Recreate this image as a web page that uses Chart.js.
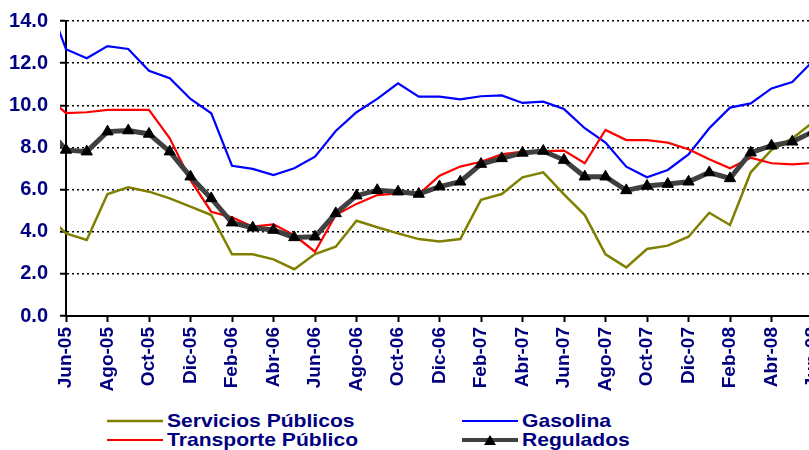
<!DOCTYPE html>
<html>
<head>
<meta charset="utf-8">
<script src="https://cdn.jsdelivr.net/npm/chart.js@4.4.1/dist/chart.umd.min.js"></script>
<style>
  html, body { margin: 0; padding: 0; background: #fff; overflow: hidden; }
  #wrap { position: relative; width: 809px; height: 450px; overflow: hidden; }
  #chart { position: absolute; left: 0; top: 0; }
  .leg { position: absolute; height: 19px; white-space: nowrap;
         font: bold 19px "Liberation Sans", Arial, sans-serif; color: #000080; line-height: 19px; }
  .leg svg { position: absolute; left: 0; top: 4px; }
  .leg span { position: absolute; left: 60px; top: 0; transform: scaleX(1.11); transform-origin: 0 0; }
</style>
</head>
<body>
<div id="wrap">
  <canvas id="chart" width="840" height="400"></canvas>
  <div id="legend"></div>
</div>
<script>
// monthly, May-05 .. Jun-08 (May-05 only shows as the clipped stub left of the axis)
var months = ['May-05','Jun-05','Jul-05','Ago-05','Sep-05','Oct-05','Nov-05','Dic-05',
  'Ene-06','Feb-06','Mar-06','Abr-06','May-06','Jun-06','Jul-06','Ago-06','Sep-06','Oct-06','Nov-06','Dic-06',
  'Ene-07','Feb-07','Mar-07','Abr-07','May-07','Jun-07','Jul-07','Ago-07','Sep-07','Oct-07','Nov-07','Dic-07',
  'Ene-08','Feb-08','Mar-08','Abr-08','May-08','Jun-08'];

var servicios = [4.9, 3.92, 3.61, 5.79, 6.11, 5.90, 5.58, 5.19, 4.79, 2.93, 2.93, 2.69, 2.22, 2.94, 3.29, 4.52,
  4.21, 3.92, 3.65, 3.54, 3.65, 5.51, 5.79, 6.58, 6.82, 5.77, 4.79, 2.93, 2.31, 3.18, 3.34, 3.76, 4.90, 4.32,
  6.82, 7.88, 8.43, 9.2];
var gasolina = [15.3, 12.66, 12.23, 12.81, 12.67, 11.64, 11.28, 10.30, 9.62, 7.13, 6.98, 6.69, 7.01, 7.56, 8.78,
  9.67, 10.30, 11.04, 10.41, 10.41, 10.28, 10.43, 10.47, 10.11, 10.17, 9.82, 8.91, 8.23, 7.09, 6.58, 6.93, 7.67,
  8.91, 9.89, 10.09, 10.80, 11.10, 12.1];
var transporte = [10.5, 9.63, 9.67, 9.78, 9.78, 9.78, 8.43, 6.45, 4.95, 4.68, 4.24, 4.35, 3.83, 3.05, 4.79, 5.32,
  5.74, 5.82, 5.77, 6.66, 7.09, 7.32, 7.67, 7.80, 7.83, 7.85, 7.25, 8.83, 8.35, 8.35, 8.23, 7.91, 7.44, 7.01,
  7.51, 7.25, 7.20, 7.26];
var regulados = [9.0, 7.88, 7.80, 8.75, 8.80, 8.64, 7.80, 6.61, 5.58, 4.43, 4.19, 4.08, 3.73, 3.76, 4.87, 5.71,
  5.97, 5.90, 5.79, 6.14, 6.37, 7.21, 7.48, 7.74, 7.83, 7.40, 6.61, 6.61, 5.96, 6.17, 6.26, 6.37, 6.81, 6.53,
  7.75, 8.08, 8.27, 8.75];

var yTicks = [0, 2, 4, 6, 8, 10, 12, 14];

var navy = '#000080';
Chart.defaults.font.family = '"Liberation Sans", Arial, sans-serif';
Chart.defaults.font.weight = 'bold';
Chart.defaults.font.size = 19;
Chart.defaults.color = navy;

// x position = month index, Jun-05 = 0
function pts(arr) {
  return arr.map(function (v, i) { return { x: i - 1, y: v }; });
}

function line(label, arr, color, width) {
  return {
    label: label,
    data: pts(arr),
    borderColor: color,
    backgroundColor: color,
    borderWidth: width,
    pointRadius: 0,
    tension: 0,
    clip: { left: 6, top: 0, right: false, bottom: 0 }
  };
}

var reg = line('Regulados', regulados, '#404040', 5);
reg.pointStyle = 'triangle';
reg.pointRadius = 6.5;
reg.pointBackgroundColor = '#000';
reg.pointBorderColor = '#000';
reg.pointBorderWidth = 1;

var datasets = [
  reg,
  line('Transporte Público', transporte, '#ff0000', 2.2),
  line('Gasolina', gasolina, '#0000ff', 2.2),
  line('Servicios Públicos', servicios, '#808000', 2.5)
];

var chart = new Chart(document.getElementById('chart'), {
  type: 'line',
  data: { datasets: datasets },
  options: {
    responsive: false,
    animation: false,
    layout: { padding: { top: 21, right: 27, left: 0, bottom: 0 } },
    plugins: { legend: { display: false }, tooltip: { enabled: false } },
    scales: {
      x: {
        type: 'linear',
        min: 0,
        max: 36,
        ticks: {
          stepSize: 2,
          autoSkip: false,
          minRotation: 90,
          maxRotation: 90,
          padding: 5,
          callback: function (v) { return months[v + 1]; }
        },
        grid: { drawOnChartArea: false, tickLength: 6, tickColor: '#000', tickWidth: 2 },
        border: { color: '#000', width: 2 },
        afterFit: function (s) { s.height = 84; s.paddingLeft = 0; s.paddingRight = 0; }
      },
      y: {
        min: 0,
        max: 14,
        afterBuildTicks: function (s) { s.ticks = yTicks.map(function (v) { return { value: v }; }); },
        ticks: {
          padding: 12,
          font: { size: 20 },
          callback: function (v) { return v.toFixed(1); }
        },
        grid: { color: '#000', lineWidth: 1.5, tickLength: 6, tickColor: '#000', tickWidth: 2, tickBorderDash: [] },
        border: { color: '#000', width: 2, dash: [2, 3] },
        afterFit: function (s) { s.width = 66; s.paddingTop = 0; s.paddingBottom = 0; }
      }
    }
  }
});

// legend: two columns, row-major order as in the original
var legendOrder = ['Servicios Públicos', 'Gasolina', 'Transporte Público', 'Regulados'];
var legendSlots = [[107, 411], [462, 411], [107, 430], [462, 430]];
var legendEl = document.getElementById('legend');
legendOrder.forEach(function (name, k) {
  var ds = datasets.filter(function (d) { return d.label === name; })[0];
  var svg = '<svg width="56" height="12"><line x1="0" y1="6" x2="56" y2="6" stroke="' + ds.borderColor +
    '" stroke-width="' + Math.min(ds.borderWidth, 4) + '"/>';
  if (ds.pointStyle === 'triangle') {
    svg += '<polygon points="22,11 34,11 28,1" fill="#000"/>';
  }
  svg += '</svg>';
  var div = document.createElement('div');
  div.className = 'leg';
  div.style.left = legendSlots[k][0] + 'px';
  div.style.top = legendSlots[k][1] + 'px';
  div.innerHTML = svg + '<span>' + name + '</span>';
  legendEl.appendChild(div);
});
</script>
</body>
</html>
